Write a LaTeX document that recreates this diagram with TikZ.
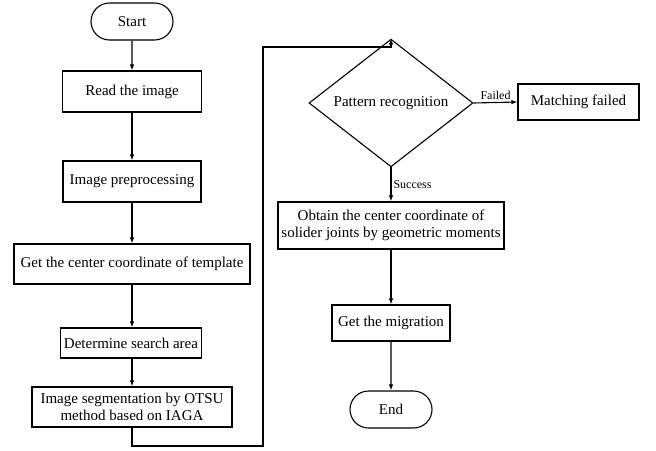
\documentclass[tikz,border=0pt]{standalone}
\usepackage{fontspec}
\setmainfont{Liberation Serif}
\usetikzlibrary{arrows.meta, positioning, shapes.geometric, shapes.misc}

\begin{document}
\begin{tikzpicture}[x=1pt, y=-1pt, line width=1.1pt, font=\fontsize{15}{17}\selectfont,
    proc/.style={rectangle, draw, inner sep=0pt, align=center},
    term/.style={rounded rectangle, draw, inner sep=0pt, minimum width=82pt, minimum height=37pt},
    decide/.style={diamond, draw, inner sep=0pt, minimum width=164pt, minimum height=76pt},
    lbl/.style={font=\fontsize{12}{14}\selectfont, inner sep=2pt},
    arr/.style={-{Latex[length=6pt, width=4.5pt]}}]
      \useasboundingbox (0,0) rectangle (656,450);

      \node[term] (start) at (132,21.5) {Start};
      \node[proc, minimum width=139pt, minimum height=41pt] (read) at (132,91.5) {Read the image};
      \node[proc, minimum width=138pt, minimum height=41pt] (prep) at (132,181.5) {Image preprocessing};
      \node[proc, minimum width=236pt, minimum height=40pt] (tmpl) at (132,264) {Get the center coordinate of template};
      \node[proc, minimum width=141pt, minimum height=30pt] (area) at (131,343) {Determine search area};
      \node[proc, minimum width=200pt, minimum height=40pt] (seg) at (132,407) {Image segmentation by OTSU\\method based on IAGA};

      \node[decide] (patt) at (391,103) {Pattern recognition};
      \node[proc, minimum width=121pt, minimum height=36pt] (fail) at (578.5,102) {Matching failed};
      \node[proc, minimum width=226pt, minimum height=47pt] (obtain) at (391,225.5) {Obtain the center coordinate of\\solider joints by geometric moments};
      \node[proc, minimum width=118pt, minimum height=36pt] (migr) at (391,323) {Get the migration};
      \node[term] (stop) at (391,409.5) {End};

      \coordinate (loopb) at (263,446);
      \coordinate (loopt) at (263,47);

      \draw[arr] (start) -- (read);
      \draw[arr] (read) -- (prep);
      \draw[arr] (prep) -- (tmpl);
      \draw[arr] (tmpl) -- (area.north -| tmpl.south);
      \draw[arr] (area.south -| seg.north) -- (seg);
      \draw[arr] (seg.south) |- (loopb) -- (loopt) -| (patt.north);
      \draw[arr] (patt.east) -- node[above, lbl] {Failed} (fail.west);
      \draw[arr] (patt.south) -- node[right, lbl] {Success} (obtain.north);
      \draw[arr] (obtain) -- (migr);
      \draw[arr] (migr) -- (stop);
    \end{tikzpicture}
\end{document}
